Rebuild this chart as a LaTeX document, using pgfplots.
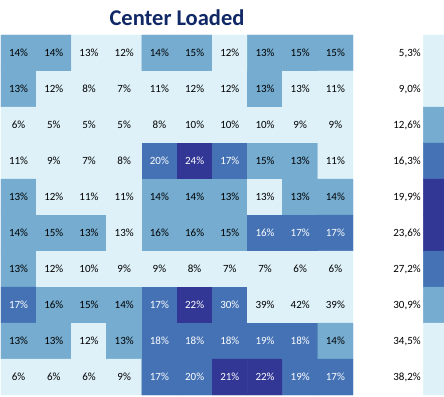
\documentclass[border=0pt]{standalone}
\usepackage{fontspec}
\setmainfont{Carlito}
\usepackage{pgfplots}
\usepackage{pgfplotstable}
\pgfplotsset{compat=1.18}
\definecolor{titleblue}{RGB}{16,40,102}

% category: 0 light, 1 medium, 2 dark, 3 darkest
\pgfplotstableread{
x y c
0 0 1
1 0 1
2 0 0
3 0 0
4 0 1
5 0 1
6 0 0
7 0 1
8 0 1
9 0 1
0 1 1
1 1 0
2 1 0
3 1 0
4 1 0
5 1 0
6 1 0
7 1 1
8 1 0
9 1 0
0 2 0
1 2 0
2 2 0
3 2 0
4 2 0
5 2 0
6 2 0
7 2 0
8 2 0
9 2 0
0 3 0
1 3 0
2 3 0
3 3 0
4 3 2
5 3 3
6 3 2
7 3 1
8 3 1
9 3 0
0 4 1
1 4 0
2 4 0
3 4 0
4 4 1
5 4 1
6 4 1
7 4 0
8 4 1
9 4 1
0 5 1
1 5 1
2 5 1
3 5 0
4 5 1
5 5 1
6 5 1
7 5 2
8 5 2
9 5 2
0 6 1
1 6 0
2 6 0
3 6 0
4 6 0
5 6 0
6 6 0
7 6 0
8 6 0
9 6 0
0 7 2
1 7 1
2 7 1
3 7 1
4 7 2
5 7 3
6 7 2
7 7 0
8 7 0
9 7 0
0 8 1
1 8 1
2 8 0
3 8 1
4 8 2
5 8 2
6 8 2
7 8 2
8 8 2
9 8 1
0 9 0
1 9 0
2 9 0
3 9 0
4 9 2
5 9 2
6 9 3
7 9 3
8 9 2
9 9 2
}\cells

\pgfplotstableread{
x y c
12 0 0
13 0 0
12 1 0
13 1 0
12 2 1
13 2 1
12 3 2
13 3 2
12 4 3
13 4 3
12 5 3
13 5 3
12 6 2
13 6 2
12 7 1
13 7 1
12 8 0
13 8 0
12 9 0
13 9 0
}\strip

% values shown in black
\pgfplotstableread{
x y v
0 0 14
1 0 14
2 0 13
3 0 12
4 0 14
5 0 15
6 0 12
7 0 13
8 0 15
9 0 15
0 1 13
1 1 12
2 1 8
3 1 7
4 1 11
5 1 12
6 1 12
7 1 13
8 1 13
9 1 11
0 2 6
1 2 5
2 2 5
3 2 5
4 2 8
5 2 10
6 2 10
7 2 10
8 2 9
9 2 9
0 3 11
1 3 9
2 3 7
3 3 8
7 3 15
8 3 13
9 3 11
0 4 13
1 4 12
2 4 11
3 4 11
4 4 14
5 4 14
6 4 13
7 4 13
8 4 13
9 4 14
0 5 14
1 5 15
2 5 13
3 5 13
4 5 16
5 5 16
6 5 15
0 6 13
1 6 12
2 6 10
3 6 9
4 6 9
5 6 8
6 6 7
7 6 7
8 6 6
9 6 6
1 7 16
2 7 15
3 7 14
7 7 39
8 7 42
9 7 39
0 8 13
1 8 13
2 8 12
3 8 13
9 8 14
0 9 6
1 9 6
2 9 6
3 9 9
}\blacktext

% values shown in white
\pgfplotstableread{
x y v
4 3 20
5 3 24
6 3 17
7 5 16
8 5 17
9 5 17
0 7 17
4 7 17
5 7 22
6 7 30
4 8 18
5 8 18
6 8 18
7 8 19
8 8 18
4 9 17
5 9 20
6 9 21
7 9 22
8 9 19
9 9 17
}\whitetext

\pgfplotstableread{
x y v
11.43 0 5.3
11.43 1 9.0
11.43 2 12.6
11.43 3 16.3
11.43 4 19.9
11.43 5 23.6
11.43 6 27.2
11.43 7 30.9
11.43 8 34.5
11.43 9 38.2
}\sidelabels

\begin{document}
\begin{tikzpicture}
\begin{axis}[
  scale only axis,
  width=443pt, height=360pt,
  xmin=-0.5, xmax=12.085,
  ymin=-0.5, ymax=9.5,
  y dir=reverse,
  axis lines=none,
  ticks=none,
  colormap={cats}{rgb255=(222,241,248) rgb255=(117,172,208) rgb255=(68,114,180) rgb255=(50,54,148)},
  point meta min=0, point meta max=3,
  /pgf/number format/assume math mode=true,
]
\addplot[matrix plot*, mesh/cols=10, point meta=explicit] table[x=x,y=y,meta=c] {\cells};
\addplot[matrix plot*, mesh/cols=2, point meta=explicit] table[x=x,y=y,meta=c] {\strip};

\addplot[only marks, mark=none, point meta=explicit,
  nodes near coords={\pgfmathprintnumber[fixed,precision=0]{\pgfplotspointmeta}\%},
  nodes near coords style={anchor=center, font=\fontsize{11}{13}\selectfont, text=black, inner sep=0pt}]
  table[x=x,y=y,meta=v] {\blacktext};
\addplot[only marks, mark=none, point meta=explicit,
  nodes near coords={\pgfmathprintnumber[fixed,precision=0]{\pgfplotspointmeta}\%},
  nodes near coords style={anchor=center, font=\fontsize{11}{13}\selectfont, text=white, inner sep=0pt}]
  table[x=x,y=y,meta=v] {\whitetext};
\addplot[only marks, mark=none, point meta=explicit,
  nodes near coords={\pgfmathprintnumber[fixed,precision=1,fixed zerofill,use comma]{\pgfplotspointmeta}\%},
  nodes near coords style={anchor=east, font=\fontsize{11}{13}\selectfont, text=black, inner sep=0pt}]
  table[x=x,y=y,meta=v] {\sidelabels};
\end{axis}
\node[font=\bfseries\fontsize{22.5}{26}\selectfont, text=titleblue] at (176pt,377pt) {Center Loaded};
\pgfresetboundingbox
\path[use as bounding box] (-1pt,-1pt) rectangle (443pt,395pt);
\end{tikzpicture}
\end{document}
